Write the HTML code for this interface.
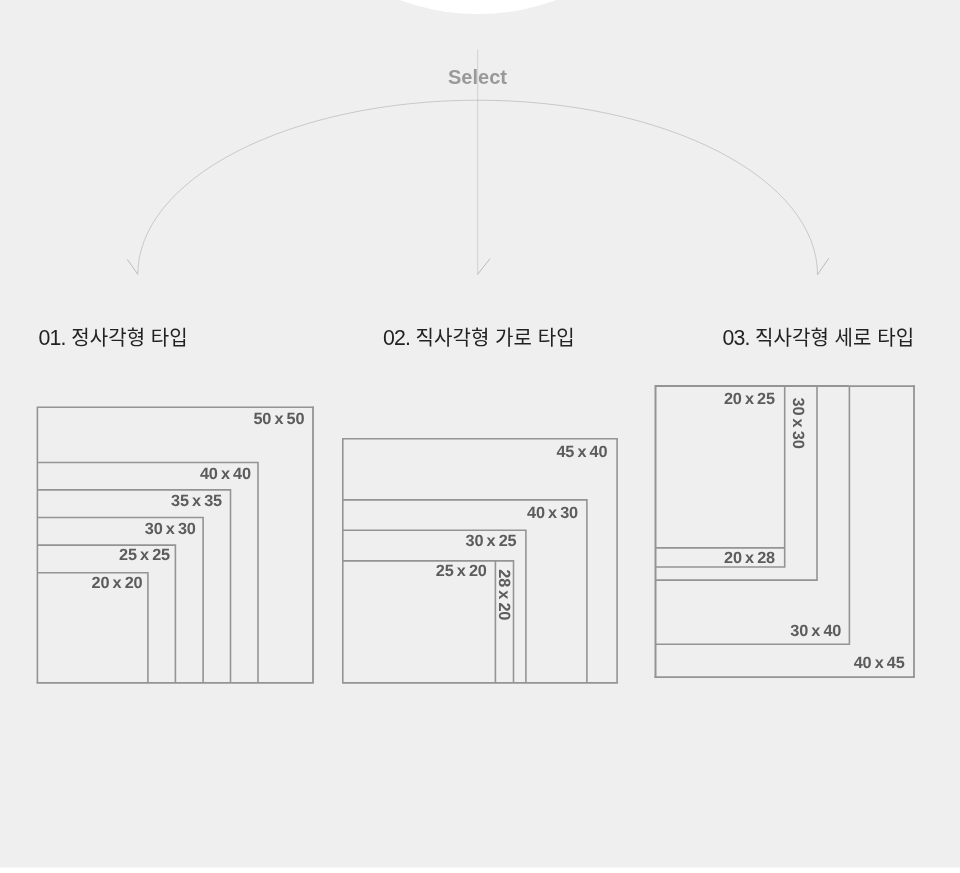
<!DOCTYPE html>
<html lang="ko">
<head>
<meta charset="utf-8">
<title>Select</title>
<style>
html,body{margin:0;padding:0;background:#fff;}
body{width:960px;height:873px;overflow:hidden;position:relative;font-family:"Liberation Sans","Noto Sans CJK KR",sans-serif;}
#stage{will-change:transform;position:absolute;left:0;top:0;width:960px;height:873px;display:block;}
.sel{font-family:"Liberation Sans","Noto Sans CJK KR",sans-serif;font-weight:700;font-size:20px;fill:#999999;}
.ttl{font-family:"Liberation Sans","Noto Sans CJK KR",sans-serif;font-weight:400;font-size:20px;fill:#222222;letter-spacing:0.1px;}
.num{font-size:21.3px;letter-spacing:-0.75px;}
.lb{font-family:"Liberation Sans","Noto Sans CJK KR",sans-serif;text-rendering:geometricPrecision;font-weight:700;font-size:16.3px;fill:#5c5c5c;word-spacing:-1.2px;letter-spacing:-0.14px;}
.bx{fill:none;stroke:#949494;stroke-width:1.6;}
.thin{fill:none;stroke:#999999;stroke-width:0.45;}
.wing{fill:none;stroke:#999999;stroke-width:0.6;}
</style>
</head>
<body>
<svg id="stage" width="960" height="873" viewBox="0 0 960 873">
  <rect x="0" y="0" width="960" height="867.5" fill="#efefef"/>
  <circle cx="478" cy="-213" r="227" fill="#ffffff"/>

  <!-- arrows -->
  <line class="thin" x1="477.7" y1="49.5" x2="477.7" y2="274.5" style="stroke:#d0d0d2;stroke-width:1"/>
  <line class="wing" x1="477.6" y1="274.4" x2="490.1" y2="258.5"/>
  <path class="thin" d="M137.8 274.5 A339.85 174.3 0 0 1 817.5 274.5"/>
  <line class="wing" x1="127.2" y1="259.2" x2="137.8" y2="274.3"/>
  <line class="wing" x1="817.5" y1="274.7" x2="828.8" y2="258.2"/>

  <text class="sel" x="477.5" y="84" text-anchor="middle">Select</text>

  <!-- titles -->
  <text class="ttl" y="345"><tspan class="num" x="38.4">01.</tspan><tspan x="71.2">정사각형 타입</tspan></text>
  <text class="ttl" y="345"><tspan class="num" x="382.9">02.</tspan><tspan x="415.4">직사각형 가로 타입</tspan></text>
  <text class="ttl" y="345"><tspan class="num" x="722.4">03.</tspan><tspan x="754.9">직사각형 세로 타입</tspan></text>

  <!-- diagram 1 -->
  <g class="bx">
    <path d="M37.4 682.9V407.3H313.9"/>
    <path d="M313 406.5V682.9" style="stroke-width:1.8"/>
    <path d="M36.6 682.9H313.8" style="stroke-width:1.9"/>
    <path d="M37.4 462.5H258V682.9"/>
    <path d="M37.4 489.9H230.5V682.9"/>
    <path d="M37.4 517.5H203.1V682.9"/>
    <path d="M37.4 545.1H175.4V682.9"/>
    <path d="M37.4 572.8H147.9V682.9"/>
  </g>
  <g class="lb" text-anchor="end">
    <text x="304.4" y="424">50 x 50</text>
    <text x="250.9" y="479">40 x 40</text>
    <text x="222" y="506">35 x 35</text>
    <text x="195.8" y="534">30 x 30</text>
    <text x="170" y="560">25 x 25</text>
    <text x="142.5" y="588">20 x 20</text>
  </g>

  <!-- diagram 2 -->
  <g class="bx">
    <path d="M342.8 682.9V438.8H617.1V682.9"/>
    <path d="M342 682.9H617.9" style="stroke-width:1.9"/>
    <path d="M342.8 499.9H586.9V682.9"/>
    <path d="M342.8 530.3H525.9V682.9"/>
    <path d="M342.8 560.9H513.5V682.9"/>
    <path d="M495.4 560.9V682.9"/>
  </g>
  <g class="lb" text-anchor="end">
    <text x="607.4" y="457">45 x 40</text>
    <text x="578" y="518">40 x 30</text>
    <text x="516.5" y="546">30 x 25</text>
    <text x="486.8" y="576">25 x 20</text>
  </g>
  <text class="lb" transform="translate(498.5 569.3) rotate(90)">28 x 20</text>

  <!-- diagram 3 -->
  <g class="bx">
    <path d="M849.4 386.1H914.9"/>
    <path d="M914 385.3V677.1" style="stroke-width:1.8"/>
    <path d="M914.9 677.1H654.5" style="stroke-width:1.9"/>
    <path d="M655.5 677.9V386.1H849.4" style="stroke-width:2"/>
    <path d="M849.4 386.1V644.2H655.5"/>
    <path d="M817 386.1V580.1H655.5"/>
    <path d="M784.7 386.1V567H655.5"/>
    <path d="M784.7 547.9H655.5"/>
  </g>
  <g class="lb" text-anchor="end">
    <text x="774.9" y="404">20 x 25</text>
    <text x="775" y="563">20 x 28</text>
    <text x="841.3" y="636">30 x 40</text>
    <text x="904.6" y="668">40 x 45</text>
  </g>
  <text class="lb" transform="translate(793 397.6) rotate(90)">30 x 30</text>
</svg>
</body>
</html>
